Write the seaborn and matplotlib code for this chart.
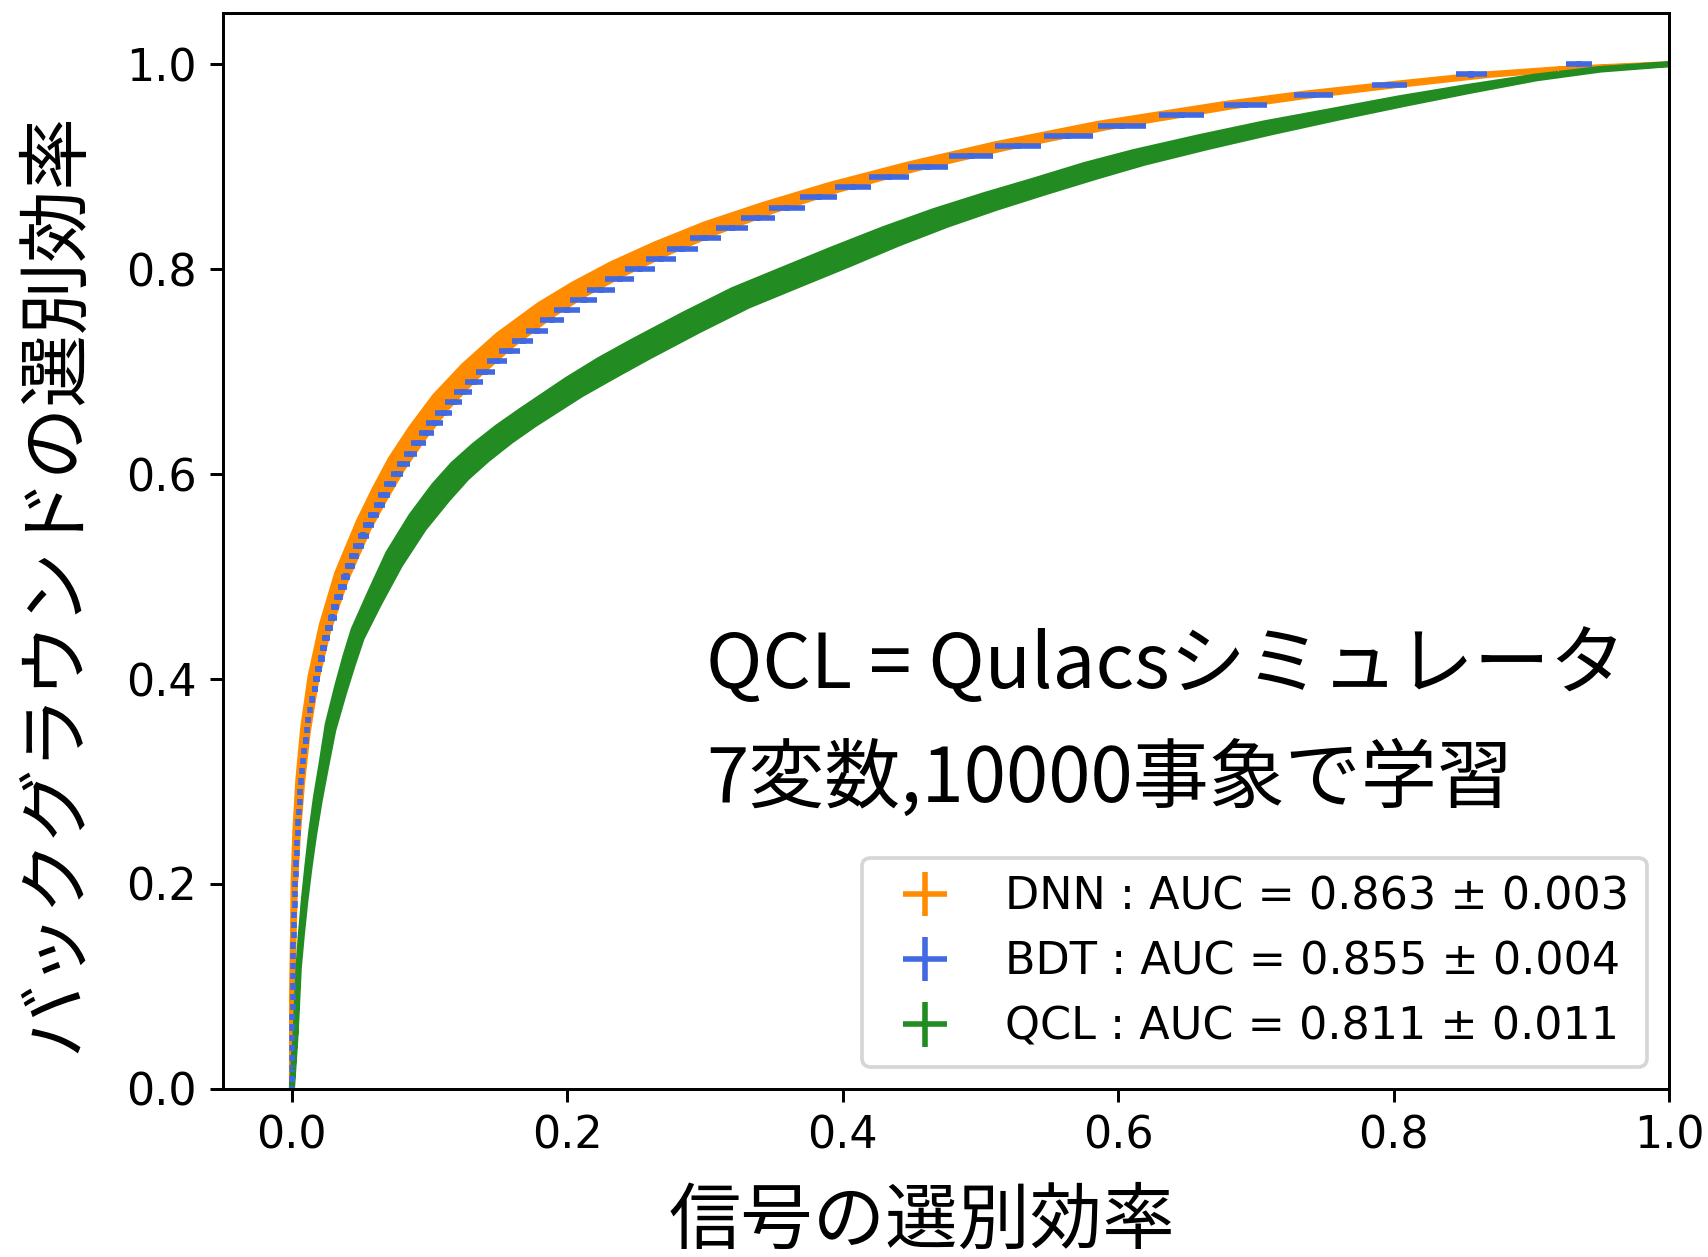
import numpy as np
import matplotlib
matplotlib.use("Agg")
import matplotlib.pyplot as plt
import seaborn as sns

# ROC points: x = signal efficiency, y = background efficiency
dnn_sig_eff = [0.0000, 0.0001, 0.0003, 0.0010, 0.0017, 0.0034, 0.0060, 0.0098, 0.0155, 0.0240,
               0.0360, 0.0520, 0.0635, 0.0760, 0.0910, 0.1080, 0.1290, 0.1540, 0.1840, 0.2080,
               0.2360, 0.2680, 0.3040, 0.3460, 0.3940, 0.4500, 0.5140, 0.5880, 0.6800, 0.7350,
               0.8000, 0.8700, 0.9200, 1.0000]
dnn_bkg_eff = [0.000, 0.050, 0.100, 0.150, 0.200, 0.250, 0.300, 0.350, 0.400, 0.450,
               0.500, 0.550, 0.580, 0.610, 0.640, 0.670, 0.700, 0.730, 0.760, 0.780,
               0.800, 0.820, 0.840, 0.860, 0.880, 0.900, 0.920, 0.940, 0.960, 0.970,
               0.980, 0.990, 0.995, 1.000]
dnn_sig_err = [0.0002, 0.0002, 0.0003, 0.0004, 0.0007, 0.0011, 0.0015, 0.0018, 0.0022, 0.0025,
               0.0033, 0.0036, 0.0040, 0.0044, 0.0044, 0.0044, 0.0044, 0.0044, 0.0044, 0.0044,
               0.0044, 0.0044, 0.0044, 0.0040, 0.0036, 0.0036, 0.0036, 0.0029, 0.0022, 0.0018,
               0.0011, 0.0007, 0.0004, 0.0002]
dnn_bkg_err = [0.0003, 0.0005, 0.0010, 0.0010, 0.0010, 0.0015, 0.0020, 0.0024, 0.0024, 0.0029,
               0.0034, 0.0039, 0.0044, 0.0049, 0.0054, 0.0059, 0.0059, 0.0059, 0.0054, 0.0049,
               0.0049, 0.0044, 0.0039, 0.0029, 0.0024, 0.0020, 0.0020, 0.0020, 0.0015, 0.0012,
               0.0008, 0.0005, 0.0003, 0.0003]

bdt_bkg_eff = [0.00, 0.01, 0.02, 0.03, 0.04, 0.05, 0.06, 0.07, 0.08, 0.09,
               0.10, 0.11, 0.12, 0.13, 0.14, 0.15, 0.16, 0.17, 0.18, 0.19,
               0.20, 0.21, 0.22, 0.23, 0.24, 0.25, 0.26, 0.27, 0.28, 0.29,
               0.30, 0.31, 0.32, 0.33, 0.34, 0.35, 0.36, 0.37, 0.38, 0.39,
               0.40, 0.41, 0.42, 0.43, 0.44, 0.45, 0.46, 0.47, 0.48, 0.49,
               0.50, 0.51, 0.52, 0.53, 0.54, 0.55, 0.56, 0.57, 0.58, 0.59,
               0.60, 0.61, 0.62, 0.63, 0.64, 0.65, 0.66, 0.67, 0.68, 0.69,
               0.70, 0.71, 0.72, 0.73, 0.74, 0.75, 0.76, 0.77, 0.78, 0.79,
               0.80, 0.81, 0.82, 0.83, 0.84, 0.85, 0.86, 0.87, 0.88, 0.89,
               0.90, 0.91, 0.92, 0.93, 0.94, 0.95, 0.96, 0.97, 0.98, 0.99, 1.00]
bdt_sig_eff = [0.0000, 0.0000, 0.0001, 0.0001, 0.0002, 0.0002, 0.0003, 0.0004, 0.0005, 0.0006,
               0.0007, 0.0008, 0.0009, 0.0010, 0.0011, 0.0013, 0.0015, 0.0017, 0.0019, 0.0021,
               0.0023, 0.0027, 0.0030, 0.0034, 0.0038, 0.0041, 0.0046, 0.0051, 0.0056, 0.0060,
               0.0068, 0.0075, 0.0080, 0.0089, 0.0099, 0.0110, 0.0120, 0.0132, 0.0147, 0.0165,
               0.0179, 0.0196, 0.0212, 0.0230, 0.0250, 0.0271, 0.0294, 0.0314, 0.0339, 0.0365,
               0.0390, 0.0423, 0.0452, 0.0485, 0.0518, 0.0553, 0.0590, 0.0637, 0.0670, 0.0715,
               0.0762, 0.0809, 0.0861, 0.0918, 0.0976, 0.1036, 0.1103, 0.1174, 0.1245, 0.1323,
               0.1405, 0.1489, 0.1580, 0.1675, 0.1777, 0.1887, 0.1999, 0.2118, 0.2244, 0.2379,
               0.2525, 0.2678, 0.2836, 0.3003, 0.3195, 0.3383, 0.3597, 0.3824, 0.4071, 0.4335,
               0.4620, 0.4930, 0.5271, 0.5639, 0.6028, 0.6461, 0.6924, 0.7418, 0.7968, 0.8565, 0.9347]
bdt_sig_err = [0.0005, 0.0005, 0.0005, 0.0005, 0.0005, 0.0005, 0.0005, 0.0005, 0.0005, 0.0005,
               0.0007, 0.0007, 0.0007, 0.0007, 0.0007, 0.0007, 0.0007, 0.0007, 0.0007, 0.0007,
               0.0009, 0.0009, 0.0010, 0.0010, 0.0011, 0.0011, 0.0012, 0.0012, 0.0013, 0.0013,
               0.0013, 0.0014, 0.0014, 0.0014, 0.0015, 0.0015, 0.0015, 0.0017, 0.0019, 0.0021,
               0.0024, 0.0025, 0.0026, 0.0027, 0.0028, 0.0029, 0.0030, 0.0031, 0.0032, 0.0034,
               0.0035, 0.0036, 0.0037, 0.0038, 0.0039, 0.0040, 0.0041, 0.0042, 0.0043, 0.0044,
               0.0045, 0.0048, 0.0050, 0.0053, 0.0056, 0.0059, 0.0061, 0.0063, 0.0065, 0.0066,
               0.0068, 0.0071, 0.0074, 0.0077, 0.0079, 0.0087, 0.0096, 0.0100, 0.0103, 0.0105,
               0.0109, 0.0109, 0.0115, 0.0112, 0.0118, 0.0125, 0.0131, 0.0136, 0.0131, 0.0143,
               0.0145, 0.0160, 0.0169, 0.0179, 0.0176, 0.0165, 0.0155, 0.0144, 0.0128, 0.0115, 0.0094]
bdt_bkg_err = 0.003

qcl_sig_eff = [0.0000, 0.0010, 0.0027, 0.0049, 0.0068, 0.0092, 0.0120, 0.0150, 0.0188, 0.0229,
               0.0280, 0.0318, 0.0356, 0.0415, 0.0477, 0.0597, 0.0742, 0.0912, 0.1080, 0.1220,
               0.1370, 0.1540, 0.1710, 0.2050, 0.2290, 0.2533, 0.2900, 0.3258, 0.3620, 0.3984,
               0.4350, 0.4710, 0.5070, 0.5435, 0.5800, 0.6150, 0.6620, 0.7090, 0.7570, 0.8060,
               0.8550, 0.9030, 0.9500, 1.0000]
qcl_bkg_eff = [0.000, 0.020, 0.054, 0.119, 0.150, 0.184, 0.217, 0.249, 0.283, 0.314,
               0.353, 0.372, 0.391, 0.418, 0.444, 0.478, 0.517, 0.553, 0.582, 0.603,
               0.621, 0.639, 0.655, 0.685, 0.704, 0.722, 0.748, 0.772, 0.792, 0.812,
               0.832, 0.850, 0.866, 0.881, 0.896, 0.909, 0.924, 0.938, 0.951, 0.964,
               0.976, 0.987, 0.995, 1.000]
qcl_sig_err = [0.0002, 0.0002, 0.0002, 0.0003, 0.0005, 0.0007, 0.0009, 0.0012, 0.0015, 0.0017,
               0.0022, 0.0024, 0.0026, 0.0029, 0.0031, 0.0036, 0.0044, 0.0047, 0.0051, 0.0051,
               0.0051, 0.0051, 0.0051, 0.0054, 0.0058, 0.0058, 0.0058, 0.0058, 0.0058, 0.0058,
               0.0054, 0.0051, 0.0047, 0.0044, 0.0044, 0.0040, 0.0036, 0.0033, 0.0029, 0.0022,
               0.0015, 0.0009, 0.0004, 0.0002]
qcl_bkg_err = [0.0003, 0.0003, 0.0003, 0.0005, 0.0008, 0.0010, 0.0013, 0.0017, 0.0020, 0.0023,
               0.0029, 0.0032, 0.0035, 0.0039, 0.0042, 0.0049, 0.0059, 0.0063, 0.0068, 0.0068,
               0.0068, 0.0068, 0.0068, 0.0073, 0.0078, 0.0078, 0.0078, 0.0078, 0.0078, 0.0078,
               0.0073, 0.0068, 0.0063, 0.0059, 0.0059, 0.0054, 0.0049, 0.0044, 0.0034, 0.0029,
               0.0020, 0.0010, 0.0005, 0.0003]

models = ["DNN", "BDT", "QCL"]
auc_values = [0.863, 0.855, 0.811]
auc_errors = [0.003, 0.004, 0.011]
colors = ["darkorange", "royalblue", "forestgreen"]

sns.set_style("ticks", {"axes.edgecolor": "black", "xtick.color": "black",
                        "ytick.color": "black", "text.color": "black",
                        "axes.labelcolor": "black"})
plt.rcParams['font.family'] = ['DejaVu Sans', 'Noto Sans CJK JP']
jp_font = ['Noto Sans CJK JP', 'DejaVu Sans']

labels = [f"{m} : AUC = {a:.3f} ± {e:.3f}" for m, a, e in zip(models, auc_values, auc_errors)]

fig = plt.figure(figsize=(1708 / 267, 1257 / 267), dpi=267)
ax = fig.add_axes([0.1306, 0.1337, 0.8466, 0.856])


def draw_band(sig, bkg, sig_err, bkg_err, color, label):
    # envelope of the dense error crosses, then the crosses themselves
    sig, bkg = np.asarray(sig), np.asarray(bkg)
    sig_err, bkg_err = np.asarray(sig_err), np.asarray(bkg_err)
    xs = np.concatenate([sig - sig_err, (sig + sig_err)[::-1]])
    ys = np.concatenate([bkg + bkg_err, (bkg - bkg_err)[::-1]])
    ax.fill(xs, ys, color=color, lw=1.5, joinstyle='round')
    return ax.errorbar(sig, bkg, xerr=sig_err, yerr=bkg_err, fmt='none',
                       ecolor=color, elinewidth=1.5, label=label)


h_dnn = draw_band(dnn_sig_eff, dnn_bkg_eff, dnn_sig_err, dnn_bkg_err, colors[0], labels[0])
h_bdt = ax.errorbar(bdt_sig_eff, bdt_bkg_eff, xerr=bdt_sig_err, yerr=bdt_bkg_err,
                    fmt='none', ecolor=colors[1], elinewidth=1.5, label=labels[1])
h_qcl = draw_band(qcl_sig_eff, qcl_bkg_eff, qcl_sig_err, qcl_bkg_err, colors[2], labels[2])

ax.set_xlim(-0.05, 1.0)
ax.set_ylim(0, 1.05)
ax.set_xticks([0.0, 0.2, 0.4, 0.6, 0.8, 1.0])
ax.set_yticks([0.0, 0.2, 0.4, 0.6, 0.8, 1.0])
ax.tick_params(labelsize=12)

ax.set_xlabel("信号の選別効率", fontsize=19.5, family=jp_font, va='center')
ax.xaxis.set_label_coords(0.483, -0.124)
ax.set_ylabel("バックグラウンドの選別効率", fontsize=19.5, family=jp_font, va='center')
ax.yaxis.set_label_coords(-0.116, 0.471)

ax.text(0.301, 0.391, "QCL = Qulacsシミュレータ", fontsize=20.5, family=jp_font, va='baseline')
ax.text(0.301, 0.280, "7変数,10000事象で学習", fontsize=20.5, family=jp_font, va='baseline')

ax.legend(handles=[h_dnn, h_bdt, h_qcl], loc='lower right', fontsize=12)

fig.savefig("out.png", dpi=267)
